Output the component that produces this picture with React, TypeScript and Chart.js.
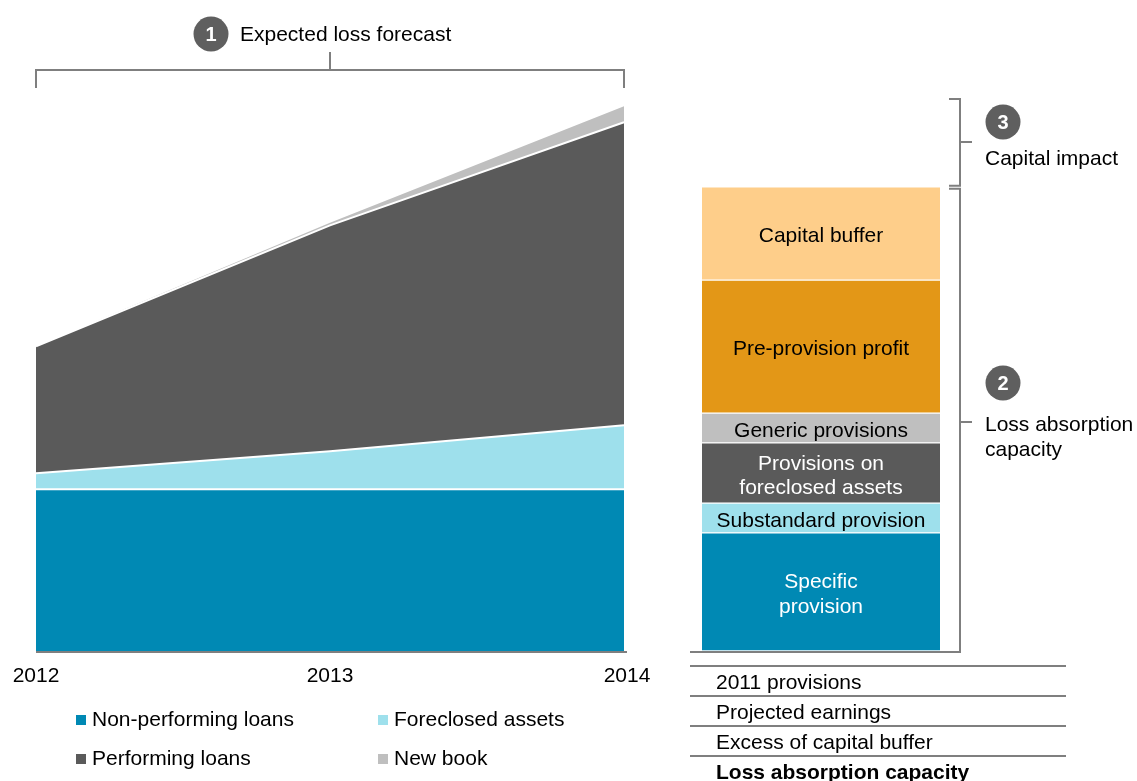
import React, { useEffect, useRef } from "react";
import { Chart, registerables } from "chart.js";

Chart.register(...registerables);

// ---------- data ----------
const years = ["2012", "2013", "2014"];
const nonPerformingLoans = [29.3, 29.3, 29.3];
const foreclosedAssets = [2.9, 6.9, 11.6];
const performingLoans = [23.0, 40.9, 54.9];
const newBook = [0, 0.5, 2.9];
const areaSeriesNames = ["Non-performing loans", "Foreclosed assets", "Performing loans", "New book"];

const capacityNames = [
  ["Specific", "provision"],
  ["Substandard provision"],
  ["Provisions on", "foreclosed assets"],
  ["Generic provisions"],
  ["Pre-provision profit"],
  ["Capital buffer"],
];
const capacityValues = [21.4, 5.4, 10.9, 5.4, 24.1, 16.9];
const tableRows = ["2011 provisions", "Projected earnings", "Excess of capital buffer", "Loss absorption capacity"];
const headings = ["Expected loss forecast", "Loss absorption capacity", "Capital impact"];

// ---------- styles ----------
const W = 1137;
const H = 781;
const FONT = '"Liberation Sans", Arial, Helvetica, sans-serif';
const FS = 21;
const BLUE = "#0089B4";
const CYAN = "#9EE0EC";
const DARK = "#5A5A5A";
const LIGHT = "#BFBFBF";
const PEACH = "#FECE8A";
const ORANGE = "#E39717";
const LINE = "#7F7F7F";
const CIRCLE = "#5F5F5F";

const areaColors = [BLUE, CYAN, DARK, LIGHT];
const barColors = [BLUE, CYAN, DARK, LIGHT, ORANGE, PEACH];
const barTextColors = ["#ffffff", "#000000", "#ffffff", "#000000", "#000000", "#000000"];

function line(ctx: CanvasRenderingContext2D, pts: number[][], color = LINE, width = 2) {
  ctx.save();
  ctx.strokeStyle = color;
  ctx.lineWidth = width;
  ctx.beginPath();
  pts.forEach((p, i) => (i === 0 ? ctx.moveTo(p[0], p[1]) : ctx.lineTo(p[0], p[1])));
  ctx.stroke();
  ctx.restore();
}

function circleNum(ctx: CanvasRenderingContext2D, x: number, y: number, n: string) {
  ctx.save();
  ctx.fillStyle = CIRCLE;
  ctx.beginPath();
  ctx.arc(x, y, 17.5, 0, Math.PI * 2);
  ctx.fill();
  ctx.fillStyle = "#ffffff";
  ctx.font = `bold 20px ${FONT}`;
  ctx.textAlign = "center";
  ctx.textBaseline = "middle";
  ctx.fillText(n, x, y + 1);
  ctx.restore();
}

function text(ctx: CanvasRenderingContext2D, s: string, x: number, y: number, align: CanvasTextAlign = "left", color = "#000", weight = "normal") {
  ctx.save();
  ctx.fillStyle = color;
  ctx.font = `${weight} ${FS}px ${FONT}`;
  ctx.textAlign = align;
  ctx.textBaseline = "middle";
  ctx.fillText(s, x, y);
  ctx.restore();
}

const areaDecor = {
  id: "areaDecor",
  afterDraw(chart: any) {
    const ctx = chart.ctx as CanvasRenderingContext2D;
    const xs = chart.scales.x;
    const area = chart.chartArea;
    const x0 = xs.getPixelForValue(0);
    const x1 = xs.getPixelForValue(1);
    const x2 = xs.getPixelForValue(2);
    // baseline
    line(ctx, [[area.left, area.bottom + 1], [area.right + 3, area.bottom + 1]]);
    // x labels
    years.forEach((y, i) => text(ctx, y, xs.getPixelForValue(i) + (i === 2 ? 3 : 0), 676, "center"));
    // bracket 1
    line(ctx, [[x0, 88], [x0, 70], [x2, 70], [x2, 88]]);
    line(ctx, [[x1, 52], [x1, 70]]);
    circleNum(ctx, 211, 34, "1");
    text(ctx, headings[0], 240, 35);
    // legend
    const cols = [76, 378];
    const rows = [720, 759];
    chart.data.datasets.forEach((ds: any, i: number) => {
      const cx = cols[i % 2];
      const cy = rows[Math.floor(i / 2)];
      ctx.fillStyle = ds.backgroundColor;
      ctx.fillRect(cx, cy - 5, 10, 10);
      text(ctx, ds.label, cx + 16, cy);
    });
  },
};

const barDecor = {
  id: "barDecor",
  afterDraw(chart: any) {
    const ctx = chart.ctx as CanvasRenderingContext2D;
    chart.data.datasets.forEach((ds: any, i: number) => {
      const el = chart.getDatasetMeta(i).data[0];
      if (!el) return;
      const p = el.getProps(["x", "y", "base"], true);
      const mid = (p.y + p.base) / 2 + 3;
      const lines: string[] = capacityNames[i];
      const lh = 24.5;
      lines.forEach((s, k) => {
        text(ctx, s, p.x, mid + (k - (lines.length - 1) / 2) * lh, "center", barTextColors[i]);
      });
    });
    const area = chart.chartArea;
    const top = chart.scales.y.getPixelForValue(capacityValues.reduce((a, b) => a + b, 0));
    const bx = 960;
    // baseline under bar & bracket 2
    line(ctx, [[690, area.bottom + 1], [bx, area.bottom + 1], [bx, top + 2], [949, top + 2]]);
    line(ctx, [[bx, 422], [972, 422]]);
    circleNum(ctx, 1003, 383, "2");
    text(ctx, "Loss absorption", 985, 425);
    text(ctx, "capacity", 985, 450);
    // bracket 3
    line(ctx, [[949, 99], [bx, 99], [bx, top - 1], [949, top - 1]]);
    line(ctx, [[bx, 142], [972, 142]]);
    circleNum(ctx, 1003, 122, "3");
    text(ctx, headings[2], 985, 159);
    // table
    [666, 696, 726, 756].forEach((y) => line(ctx, [[690, y], [1066, y]]));
    tableRows.forEach((s, i) => text(ctx, s, 716, 683 + i * 30, "left", "#000", i === 3 ? "bold" : "normal"));
  },
};

export default function App() {
  const areaRef = useRef<HTMLCanvasElement>(null);
  const barRef = useRef<HTMLCanvasElement>(null);

  useEffect(() => {
    Chart.defaults.font.family = FONT;
    const series = [nonPerformingLoans, foreclosedAssets, performingLoans, newBook];
    const areaChart = new Chart(areaRef.current!, {
      type: "line",
      data: {
        labels: years,
        datasets: series.map((d, i) => ({
          label: areaSeriesNames[i],
          data: d,
          backgroundColor: areaColors[i],
          borderColor: "#ffffff",
          borderWidth: i === 3 ? 0 : 2,
          pointRadius: 0,
          tension: 0,
          fill: i === 0 ? "origin" : "-1",
        })),
      },
      options: {
        responsive: false,
        animation: false,
        layout: { padding: { left: 36, right: W - 624, top: 99, bottom: H - 651 } },
        plugins: { legend: { display: false }, tooltip: { enabled: false } },
        scales: {
          x: { display: false },
          y: { display: false, stacked: true, min: 0, max: 100 },
        },
      },
      plugins: [areaDecor],
    });

    const barChart = new Chart(barRef.current!, {
      type: "bar",
      data: {
        labels: [headings[1]],
        datasets: capacityValues.map((v, i) => ({
          label: capacityNames[i].join(" "),
          data: [v],
          backgroundColor: barColors[i],
          borderColor: "#ffffff",
          borderWidth: { top: 1, bottom: 1, left: 0, right: 0 },
          borderSkipped: false,
          barPercentage: 1,
          categoryPercentage: 1,
        })),
      },
      options: {
        responsive: false,
        animation: false,
        layout: { padding: { left: 702, right: W - 940, top: 99, bottom: H - 651 } },
        plugins: { legend: { display: false }, tooltip: { enabled: false } },
        scales: {
          x: { display: false, stacked: true },
          y: { display: false, stacked: true, min: 0, max: 100 },
        },
      },
      plugins: [barDecor],
    });

    return () => {
      areaChart.destroy();
      barChart.destroy();
    };
  }, []);

  const canvasStyle: React.CSSProperties = { position: "absolute", left: 0, top: 0, width: W, height: H };
  return (
    <div style={{ position: "absolute", left: 0, top: 0, width: W, height: H, background: "#fff", overflow: "hidden" }}>
      <canvas ref={areaRef} width={W} height={H} style={canvasStyle} />
      <canvas ref={barRef} width={W} height={H} style={canvasStyle} />
    </div>
  );
}
